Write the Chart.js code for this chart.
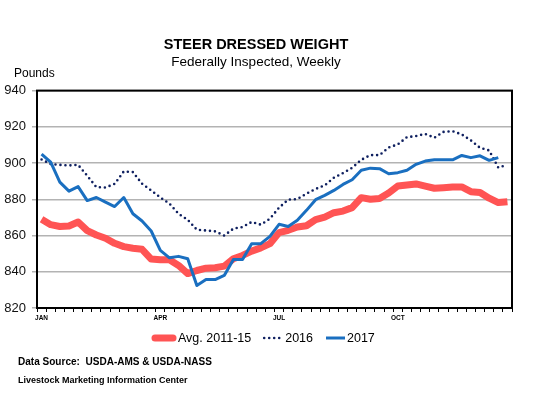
<!DOCTYPE html>
<html lang="en">
<head>
<meta charset="UTF-8">
<title>Steer Dressed Weight</title>
<script src="https://cdn.jsdelivr.net/npm/chart.js"></script>
<style>
  html, body { margin: 0; padding: 0; background: #fff; }
</style>
</head>
<body>
<canvas id="weightChart" width="533" height="396"></canvas>
<script>
// month labels sit under these week slots, all other weeks are blank
const monthTicks = ['JAN', 'APR', 'JUL', 'OCT'];
const monthTickWeeks = [0, 13, 26, 39];
const weekCount = 52;

// weekly steer dressed weight, pounds
const avg2011to15 = [869, 866, 865, 865.3, 867.5, 862.7, 860.3, 858.5, 855.7, 853.9, 853, 852.4, 847,
  846.6, 846.6, 843.5, 839, 840.7, 842, 842.2, 843.1, 847.2, 849, 851.4, 853.2, 855.5,
  861.6, 862.9, 864.7, 865.4, 868.8, 870.2, 872.6, 873.5, 875.4, 880.9, 880, 880.5, 883.5,
  887.3, 887.9, 888.5, 887.3, 886.1, 886.4, 886.8, 886.8, 884.2, 883.7, 880.6, 878.2, 878.7];
const year2016 = [902, 899.5, 899, 898.7, 899, 893, 886.7, 886.5, 888.5, 895.4, 895, 888.6, 884.9,
  881, 877.6, 872, 868.7, 863.2, 862.8, 862.3, 860, 863.8, 864.7, 867.5, 866, 869.3,
  875.4, 879.8, 880.1, 883.1, 885.7, 887.7, 891.9, 894.5, 897.4, 901.8, 904.4, 904.4, 908.6,
  910.3, 914.3, 914.9, 916.1, 914, 917.2, 917.6, 915.8, 912.5, 908.4, 907, 897.5, 899];
const year2017 = [905, 900.5, 889.5, 884.5, 887, 879.3, 881, 878.4, 876, 881, 872, 868, 862.5,
  851.8, 847.7, 848.5, 847.2, 832.4, 835.7, 835.7, 838, 846.8, 846.8, 855.5, 855.5, 859.5,
  866.2, 865, 868.4, 873.9, 879.8, 882.2, 884.9, 888.2, 890.8, 896, 897.2, 896.9, 894.1,
  894.7, 896, 899.3, 901.1, 901.8, 901.8, 901.8, 904.2, 903, 904, 901.5, 903];

const seriesNames = ['Avg. 2011-15', '2016', '2017'];
const yTitle = 'Pounds';
const sourceNote = 'Data Source:  USDA-AMS & USDA-NASS';
const centerNote = 'Livestock Marketing Information Center';

const weekLabels = [];
for (let i = 0; i < weekCount; i++) {
    const k = monthTickWeeks.indexOf(i);
    weekLabels.push(k >= 0 ? monthTicks[k] : '');
}

Chart.defaults.font.family = '"Liberation Sans", Arial, sans-serif';

// frame round the plot, the "Pounds" label, legend and the notes underneath
const frameAndText = {
    id: 'frameAndText',
    beforeDatasetsDraw(chart) {
        const { ctx, chartArea: a } = chart;
        ctx.save();
        ctx.strokeStyle = '#000';
        ctx.lineWidth = 2;
        ctx.strokeRect(a.left, a.top, a.right - a.left, a.bottom - a.top);
        ctx.restore();
    },
    afterDraw(chart) {
        const ctx = chart.ctx;
        ctx.save();
        ctx.fillStyle = '#000';
        ctx.textBaseline = 'middle';
        ctx.font = '12px "Liberation Sans"';
        ctx.fillText(yTitle, 14, 74);

        // legend
        const ly = 338;
        let x = 152;
        ctx.font = '12.5px "Liberation Sans"';
        chart.data.datasets.forEach((ds, i) => {
            const w = i === 0 ? 24 : 20;
            ctx.save();
            ctx.strokeStyle = ds.borderColor;
            ctx.lineWidth = i === 0 ? 7 : (i === 1 ? 2.6 : 3);
            ctx.lineCap = i === 2 ? 'butt' : 'round';
            if (i === 1) ctx.setLineDash([0, 5]);
            ctx.beginPath();
            ctx.moveTo(x + (i === 0 ? 3 : 1), ly);
            ctx.lineTo(x + w - (i === 0 ? 3 : 0), ly);
            ctx.stroke();
            ctx.restore();
            x += w + 2;
            ctx.fillStyle = '#000';
            ctx.fillText(ds.label, x, ly + 1);
            x += ctx.measureText(ds.label).width + 12;
        });

        ctx.font = 'bold 11px "Liberation Sans"';
        ctx.fillText(sourceNote, 18, 362, 194);
        ctx.font = 'bold 9px "Liberation Sans"';
        ctx.fillText(centerNote, 18, 381, 170);
        ctx.restore();
    }
};

new Chart(document.getElementById('weightChart'), {
    type: 'line',
    data: {
        labels: weekLabels,
        datasets: [
            {
                label: seriesNames[0],
                data: avg2011to15,
                borderColor: '#ff5454',
                borderWidth: 7,
                borderJoinStyle: 'round',
                pointRadius: 0,
                tension: 0,
                order: 3
            },
            {
                label: seriesNames[1],
                data: year2016,
                borderColor: '#0f2060',
                borderWidth: 2.6,
                borderDash: [0, 5],
                borderCapStyle: 'round',
                pointRadius: 0,
                tension: 0,
                order: 2
            },
            {
                label: seriesNames[2],
                data: year2017,
                borderColor: '#1a6fc0',
                borderWidth: 3,
                borderJoinStyle: 'round',
                pointRadius: 0,
                tension: 0,
                order: 1
            }
        ]
    },
    plugins: [frameAndText],
    options: {
        responsive: false,
        animation: false,
        layout: { padding: { left: 0, right: 21, top: 0, bottom: 0 } },
        plugins: {
            legend: { display: false },
            tooltip: { enabled: false },
            title: {
                display: true,
                text: 'STEER DRESSED WEIGHT',
                color: '#000',
                font: { size: 14.5, weight: 'bold' },
                padding: { top: 36, bottom: 1 }
            },
            subtitle: {
                display: true,
                text: 'Federally Inspected, Weekly',
                color: '#000',
                font: { size: 13.5 },
                padding: { top: 0, bottom: 20 }
            }
        },
        scales: {
            x: {
                offset: true,
                grid: { offset: true, drawOnChartArea: false, tickLength: 4, color: '#000', lineWidth: 1 },
                border: { display: true, color: '#000', width: 2 },
                ticks: { autoSkip: false, maxRotation: 0, padding: 2, color: '#000', font: { size: 6.5, weight: 'bold' } },
                afterFit: s => { s.height = 88; }
            },
            y: {
                min: 820,
                max: 940,
                ticks: { stepSize: 20, padding: 6, color: '#111', font: { size: 13 } },
                grid: { color: '#b3b3b3', lineWidth: 1.5, tickLength: 5 },
                border: { display: true, color: '#000', width: 2 },
                afterFit: s => { s.width = 37; }
            }
        }
    }
});
</script>
</body>
</html>
